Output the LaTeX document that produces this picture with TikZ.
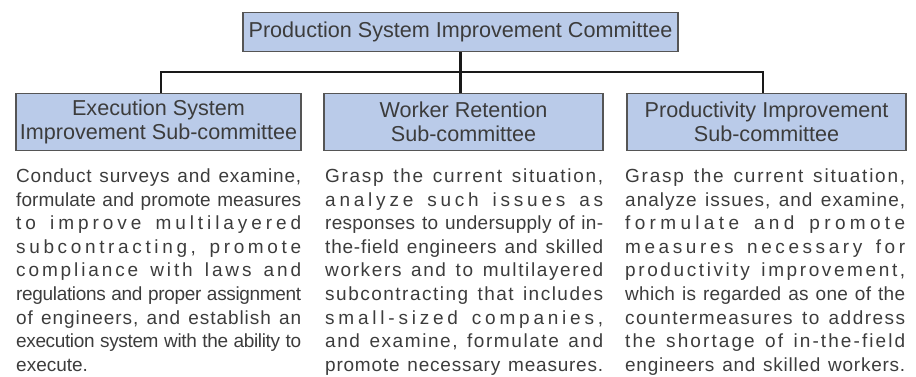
\documentclass[tikz,border=0pt]{standalone}
\usepackage{fontspec}
\setmainfont{Liberation Sans}
\usetikzlibrary{positioning}
\setlength{\parindent}{0pt}

\definecolor{boxblue}{RGB}{186,203,233}
\definecolor{boxline}{RGB}{85,85,85}
\definecolor{txtgray}{RGB}{60,60,60}

% spread one line of text over the full width
\ExplSyntaxOn
\NewDocumentCommand\spr{m}{\makebox[\hsize][s]{\str_map_inline:nn{#1}{##1\hskip 0pt plus 1fil minus 1fil\relax}\unskip}}
\ExplSyntaxOff

\tikzset{
  cmtbox/.style={draw=boxline, fill=boxblue, line width=1.3pt, text=txtgray,
    font=\fontsize{21.6}{23.5}\selectfont, align=center, inner sep=0pt},
  desctext/.style={text=txtgray, font=\fontsize{19}{23.6}\selectfont,
    text width=#1, align=left, inner sep=0pt, anchor=north west},
  link/.style={line width=2.4pt, draw=black!90}
}

\begin{document}
\begin{tikzpicture}[x=1pt, y=-1pt]
      \useasboundingbox (0,0) rectangle (916,377);

      % committee
      \node[cmtbox, minimum width=435pt, minimum height=39pt] (psic) at (460.5,32)
           {Production System Improvement Committee};

      % sub-committees
      \node[cmtbox, minimum width=285pt, minimum height=57pt] (esis) at (158.5,122)
           {Execution System\\Improvement Sub-committee};
      \node[cmtbox, minimum width=279pt, minimum height=57pt] (wrs) at (463.5,122)
           {Worker Retention\\Sub-committee};
      \node[cmtbox, minimum width=279pt, minimum height=57pt] (pis) at (766.5,122)
           {Productivity Improvement\\Sub-committee};

      % links
      \coordinate (bus) at (461,72);
      \draw[link] (psic.south) -- (psic.south |- wrs.north);
      \draw[link] ([xshift=2.5pt]esis.north) |- (bus) -| ([xshift=-3.5pt]pis.north);

      % descriptions
      \node[desctext=285pt] (esisd) at (16,168.5) {%
        \spr{Conduct surveys and examine,}\\
        \spr{formulate and promote measures}\\
        \spr{to improve multilayered}\\
        \spr{subcontracting, promote}\\
        \spr{compliance with laws and}\\
        \spr{regulations and proper assignment}\\
        \spr{of engineers, and establish an}\\
        \spr{execution system with the ability to}\\
        execute.};
      \node[desctext=278pt] (wrsd) at (325,168.5) {%
        \spr{Grasp the current situation,}\\
        \spr{analyze such issues as}\\
        \spr{responses to undersupply of in-}\\
        \spr{the-field engineers and skilled}\\
        \spr{workers and to multilayered}\\
        \spr{subcontracting that includes}\\
        \spr{small-sized companies,}\\
        \spr{and examine, formulate and}\\
        \spr{promote necessary measures.}};
      \node[desctext=280pt] (pisd) at (625,168.5) {%
        \spr{Grasp the current situation,}\\
        \spr{analyze issues, and examine,}\\
        \spr{formulate and promote}\\
        \spr{measures necessary for}\\
        \spr{productivity improvement,}\\
        \spr{which is regarded as one of the}\\
        \spr{countermeasures to address}\\
        \spr{the shortage of in-the-field}\\
        \spr{engineers and skilled workers.}};
\end{tikzpicture}
\end{document}
